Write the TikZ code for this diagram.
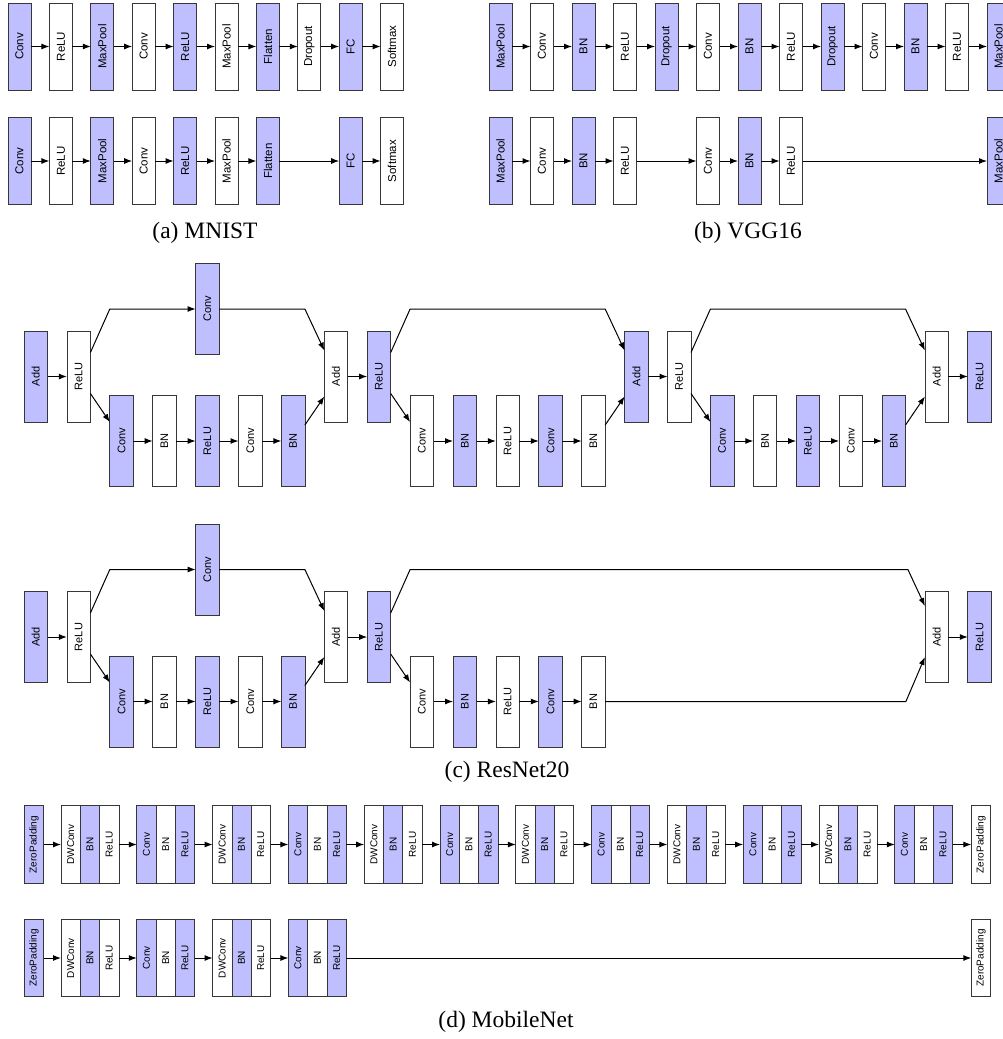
\documentclass[tikz,border=0pt]{standalone}
\usepackage{fontspec}
\setmainfont{Liberation Serif}
\setsansfont{Liberation Sans}
\usepackage{graphicx}
\usetikzlibrary{arrows.meta}
\definecolor{lyrblue}{RGB}{191,191,255}
\definecolor{lyrline}{RGB}{55,55,55}
\newcommand{\vt}[1]{\rotatebox{90}{#1}}

\begin{document}
\begin{tikzpicture}[x=1pt,y=-1pt,line width=1pt,>={Latex[length=8pt,width=6pt]},
  lyr/.style={draw=lyrline,line width=0.8pt,minimum width=23pt,minimum height=87pt,
    inner sep=0pt,outer sep=0pt,font=\sffamily\fontsize{11.5}{13}\selectfont},
  res/.style={minimum width=23.5pt,minimum height=91pt,font=\sffamily\fontsize{11}{13}\selectfont},
  mob/.style={minimum width=19.3pt,minimum height=77.5pt,font=\sffamily\fontsize{10}{12}\selectfont},
  captxt/.style={font=\fontsize{23.5}{28}\selectfont}]
  \useasboundingbox (0,0) rectangle (1003,1039);

  % (a) MNIST
  \foreach \t [count=\i from 0] in {Conv,ReLU,MaxPool,Conv,ReLU,MaxPool,Flatten,Dropout,FC,Softmax}{
    \ifodd\i\relax\def\fc{white}\else\def\fc{lyrblue}\fi
    \node[lyr,fill=\fc] (at\i) at (19.5+41.4*\i,46.5) {\vt{\t}};
    \ifnum\i=7\relax\else
      \node[lyr,fill=\fc] (ab\i) at (19.5+41.4*\i,161) {\vt{\t}};
    \fi
  }
  \foreach \i [evaluate=\i as \j using int(\i+1)] in {0,...,8}
    \draw[->] (at\i) -- (at\j);
  \foreach \i/\j in {0/1,1/2,2/3,3/4,4/5,5/6,6/8,8/9}
    \draw[->] (ab\i) -- (ab\j);
  \node[captxt] (capa) at (205,233) {(a) MNIST};

  % (b) VGG16
  \foreach \t [count=\i from 0] in {MaxPool,Conv,BN,ReLU,Dropout,Conv,BN,ReLU,Dropout,Conv,BN,ReLU,MaxPool}{
    \ifodd\i\relax\def\fc{white}\else\def\fc{lyrblue}\fi
    \node[lyr,fill=\fc] (bt\i) at (500.5+41.5*\i,46.5) {\vt{\t}};
  }
  \foreach \i/\t in {0/MaxPool,1/Conv,2/BN,3/ReLU,5/Conv,6/BN,7/ReLU,12/MaxPool}{
    \ifodd\i\relax\def\fc{white}\else\def\fc{lyrblue}\fi
    \node[lyr,fill=\fc] (bb\i) at (500.5+41.5*\i,161) {\vt{\t}};
  }
  \foreach \i [evaluate=\i as \j using int(\i+1)] in {0,...,11}
    \draw[->] (bt\i) -- (bt\j);
  \foreach \i/\j in {0/1,1/2,2/3,3/5,5/6,6/7,7/12}
    \draw[->] (bb\i) -- (bb\j);
  \node[captxt] (capb) at (748,233) {(b) VGG16};

  % (c) ResNet20
  \foreach \b/\oy in {1/0,2/260.5}{
    \node[lyr,res,fill=lyrblue] (c\b-up) at (207.35,309+\oy) {\vt{Conv}};
    \foreach \k/\t/\dy in {0/Add/0,1/ReLU/0,2/Conv/64.5,3/BN/64.5,4/ReLU/64.5,5/Conv/64.5,
        6/BN/64.5,7/Add/0,8/ReLU/0,9/Conv/64.5,10/BN/64.5,11/ReLU/64.5,12/Conv/64.5,
        13/BN/64.5,21/Add/0,22/ReLU/0}{
      \ifodd\k\relax\def\fc{white}\else\def\fc{lyrblue}\fi
      \node[lyr,res,fill=\fc] (c\b-\k) at (35.75+42.9*\k,376.5+\oy+\dy) {\vt{\t}};
    }
  }
  \foreach \k/\t/\dy in {14/Add/0,15/ReLU/0,16/Conv/64.5,17/BN/64.5,18/ReLU/64.5,19/Conv/64.5,20/BN/64.5}{
    \ifodd\k\relax\def\fc{white}\else\def\fc{lyrblue}\fi
    \node[lyr,res,fill=\fc] (c1-\k) at (35.75+42.9*\k,376.5+\dy) {\vt{\t}};
  }

  \foreach \b in {1,2}{
    \draw[->] ([yshift=24pt]c\b-1.east) -- (c\b-2.west |- c\b-up) -- (c\b-up);
    \draw[->] (c\b-up) -- (c\b-6.east |- c\b-up) -- ([yshift=26pt]c\b-7.west);
    \foreach \i/\j in {0/1,2/3,3/4,4/5,5/6,7/8,9/10,10/11,11/12,12/13,21/22}
      \draw[->] (c\b-\i) -- (c\b-\j);
    \draw[->] ([yshift=-17pt]c\b-1.east) -- ([yshift=19pt]c\b-2.west);
    \draw[->] ([yshift=16pt]c\b-6.east) -- ([yshift=-20pt]c\b-7.west);
    \draw[->] ([yshift=-17pt]c\b-8.east) -- ([yshift=19pt]c\b-9.west);
  }
  % block 1, later units
  \draw[->] ([yshift=24pt]c1-8.east) -- (c1-9.west |- c1-up) -- (c1-13.east |- c1-up)
    -- ([yshift=26pt]c1-14.west);
  \draw[->] ([yshift=16pt]c1-13.east) -- ([yshift=-20pt]c1-14.west);
  \draw[->] ([yshift=24pt]c1-15.east) -- (c1-16.west |- c1-up) -- (c1-20.east |- c1-up)
    -- ([yshift=26pt]c1-21.west);
  \foreach \i/\j in {14/15,16/17,17/18,18/19,19/20}
    \draw[->] (c1-\i) -- (c1-\j);
  \draw[->] ([yshift=-17pt]c1-15.east) -- ([yshift=19pt]c1-16.west);
  \draw[->] ([yshift=16pt]c1-20.east) -- ([yshift=-20pt]c1-21.west);
  % block 2, long skip
  \coordinate (c2-tu) at ([xshift=-17pt]c2-21.west);
  \coordinate (c2-tl) at ([xshift=-19pt]c2-21.west);
  \draw[->] ([yshift=24pt]c2-8.east) -- (c2-9.west |- c2-up) -- (c2-tu |- c2-up)
    -- ([yshift=31pt]c2-21.west);
  \draw[->] (c2-13) -- (c2-tl |- c2-13) -- ([yshift=-20pt]c2-21.west);
  \node[captxt] (capc) at (507,772) {(c) ResNet20};

  % (d) MobileNet
  \foreach \row/\y/\n/\m in {t/844.5/11/10,b/958/3/2}{
    \node[lyr,mob,fill=lyrblue] (d\row-z0) at (34,\y) {\vt{ZeroPadding}};
    \foreach \j in {0,...,\n}{
      \ifodd\j\relax\def\ta{Conv}\else\def\ta{DWConv}\fi
      \foreach \t [count=\i from 0] in {\ta,BN,ReLU}{
        \pgfmathtruncatemacro\g{1+3*\j+\i}
        \ifodd\g\relax\def\fc{white}\else\def\fc{lyrblue}\fi
        \node[lyr,mob,fill=\fc] (d\row-\j-\i) at (70.65+75.8*\j+19.3*\i,\y) {\vt{\t}};
      }
    }
    \node[lyr,mob,fill=white] (d\row-z1) at (981,\y) {\vt{ZeroPadding}};
    \draw[->] (d\row-z0) -- (d\row-0-0);
    \foreach \j [evaluate=\j as \k using int(\j+1)] in {0,...,\m}
      \draw[->] (d\row-\j-2) -- (d\row-\k-0);
    \draw[->] (d\row-\n-2) -- (d\row-z1);
  }
  \node[captxt] (capd) at (506,1022) {(d) MobileNet};
\end{tikzpicture}
\end{document}
